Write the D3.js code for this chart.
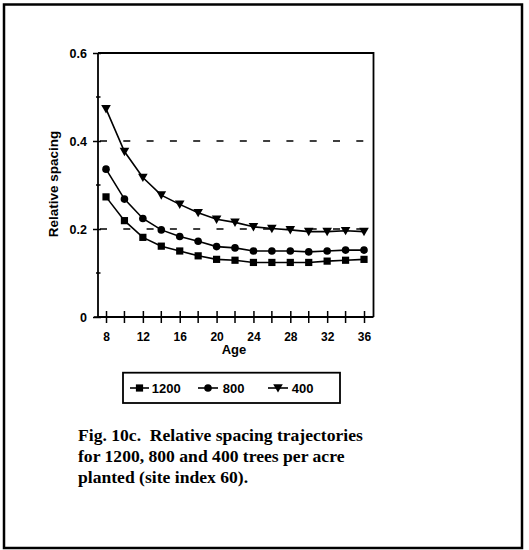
<!DOCTYPE html>
<html><head><meta charset="utf-8">
<script src="https://cdn.jsdelivr.net/npm/d3@7"></script>
<style>body{margin:0;background:#fff}svg{display:block}</style>
</head><body>
<script>
const ages = [8,10,12,14,16,18,20,22,24,26,28,30,32,34,36];
const s1200 = [0.273,0.219,0.181,0.161,0.150,0.139,0.131,0.129,0.124,0.124,0.124,0.124,0.127,0.129,0.131];
const s800  = [0.336,0.268,0.224,0.198,0.183,0.172,0.160,0.157,0.150,0.150,0.150,0.148,0.150,0.152,0.152];
const s400  = [0.473,0.376,0.317,0.277,0.256,0.237,0.222,0.215,0.205,0.201,0.198,0.194,0.194,0.196,0.194];
const seriesNames = ["1200","800","400"];
const markerTypes = ["square","circle","triangle"];
const yTicks = [0,0.2,0.4,0.6];
const yMinor = [0.1,0.3,0.5];
const xTicks = [8,12,16,20,24,28,32,36];
const xMinor = [10,14,18,22,26,30,34];
const gridVals = [0.2,0.4];
const captionLines = ["Fig. 10c.  Relative spacing trajectories","for 1200, 800 and 400 trees per acre","planted (site index 60)."];

const W=529,H=550;
const svg=d3.select("body").append("svg").attr("width",W).attr("height",H);
svg.append("rect").attr("x",4).attr("y",4.5).attr("width",518).attr("height",543.5)
  .attr("fill","none").attr("stroke","#000").attr("stroke-width",2.5);

const L=98,R=373.5,T=53,B=317;
const x=d3.scaleLinear().domain([7.13,37.03]).range([L,R]);
const y=d3.scaleLinear().domain([0,0.6]).range([B,T]);

// grid dashed lines
svg.selectAll(".grid").data(gridVals).enter().append("line")
  .attr("x1",100).attr("x2",366).attr("y1",d=>y(d)).attr("y2",d=>y(d))
  .attr("stroke","#000").attr("stroke-width",1.6).attr("stroke-dasharray","7,16.3");

// frame top/right
svg.append("path").attr("d",`M${L},${T}H${R}V${B}`).attr("fill","none").attr("stroke","#000").attr("stroke-width",1.8);

// y axis
const yAxis=svg.append("g").attr("transform",`translate(${L},0)`)
  .call(d3.axisLeft(y).tickValues(yTicks).tickFormat(d=>d===0?"0":d3.format(".1f")(d)).tickSize(5).tickPadding(6));
yAxis.select(".domain").attr("stroke-width",1.8).attr("d",`M0,${T}V${B}`);
yAxis.selectAll(".tick line").attr("x2",-5).attr("x1",3).attr("stroke-width",1.5);
yAxis.selectAll("text").attr("font-family","Liberation Sans, Arial, sans-serif").attr("font-weight","bold").attr("font-size",12.5).attr("fill","#000").attr("x",-11);
svg.selectAll(".ymin").data(yMinor).enter().append("line")
  .attr("x1",L-2).attr("x2",L+2.5).attr("y1",d=>y(d)).attr("y2",d=>y(d)).attr("stroke","#000").attr("stroke-width",1.5);

// x axis
const xAxis=svg.append("g").attr("transform",`translate(0,${B})`)
  .call(d3.axisBottom(x).tickValues(xTicks).tickFormat(d3.format("d")).tickSize(6).tickPadding(9));
xAxis.select(".domain").attr("stroke-width",1.8).attr("d",`M${L},0H${R}`);
xAxis.selectAll(".tick line").attr("y1",-6).attr("y2",6).attr("stroke-width",1.5);
xAxis.selectAll("text").attr("font-family","Liberation Sans, Arial, sans-serif").attr("font-weight","bold").attr("font-size",12).attr("fill","#000");
svg.selectAll(".xmin").data(xMinor).enter().append("line")
  .attr("x1",d=>x(d)).attr("x2",d=>x(d)).attr("y1",B-6).attr("y2",B+6).attr("stroke","#000").attr("stroke-width",1.5);
svg.append("line").attr("x1",L-4).attr("x2",L).attr("y1",B).attr("y2",B).attr("stroke","#000").attr("stroke-width",1.5);

// axis titles
svg.append("text").attr("transform",`translate(58,184) rotate(-90)`).attr("text-anchor","middle")
  .attr("font-family","Liberation Sans, Arial, sans-serif").attr("font-weight","bold").attr("font-size",13.5).text("Relative spacing");
svg.append("text").attr("x",234).attr("y",354).attr("text-anchor","middle")
  .attr("font-family","Liberation Sans, Arial, sans-serif").attr("font-weight","bold").attr("font-size",13).text("Age");

// markers
function marker(g,type,cx,cy){
  if(type==="square") g.append("rect").attr("x",cx-3.6).attr("y",cy-3.6).attr("width",7.2).attr("height",7.2).attr("fill","#000");
  else if(type==="circle") g.append("circle").attr("cx",cx).attr("cy",cy).attr("r",3.8).attr("fill","#000");
  else g.append("path").attr("d",`M${cx-4.8},${cy-3.8}L${cx+4.8},${cy-3.8}L${cx},${cy+4.6}Z`).attr("fill","#000");
}
const allSeries=[s1200,s800,s400];
const line=d3.line().x(d=>x(d[0])).y(d=>y(d[1]));
allSeries.forEach((vals,i)=>{
  const pts=ages.map((a,j)=>[a,vals[j]]);
  const g=svg.append("g");
  g.append("path").attr("d",line(pts)).attr("fill","none").attr("stroke","#000").attr("stroke-width",1.6);
  pts.forEach(p=>marker(g,markerTypes[i],x(p[0]),y(p[1])));
});

// legend
svg.append("rect").attr("x",123).attr("y",372.7).attr("width",217).attr("height",30.3)
  .attr("fill","none").attr("stroke","#000").attr("stroke-width",1.8);
const legX=[[130,149,151.7],[198,218,222.7],[268,288,291.7]];
seriesNames.forEach((n,i)=>{
  const g=svg.append("g");
  const [a,b,t]=legX[i];
  g.append("line").attr("x1",a).attr("x2",b).attr("y1",388).attr("y2",388).attr("stroke","#000").attr("stroke-width",1.6);
  marker(g,markerTypes[i],(a+b)/2,388);
  g.append("text").attr("x",t).attr("y",392.8).attr("font-family","Liberation Sans, Arial, sans-serif")
    .attr("font-weight","bold").attr("font-size",13).text(n);
});

// caption
svg.selectAll(".cap").data(captionLines).enter().append("text")
  .attr("x",78).attr("y",(d,i)=>440.7+i*21).attr("font-family","Liberation Serif, Times New Roman, serif")
  .attr("font-weight","bold").attr("font-size",17.6).style("white-space","pre").text(d=>d);
</script>
</body></html>
